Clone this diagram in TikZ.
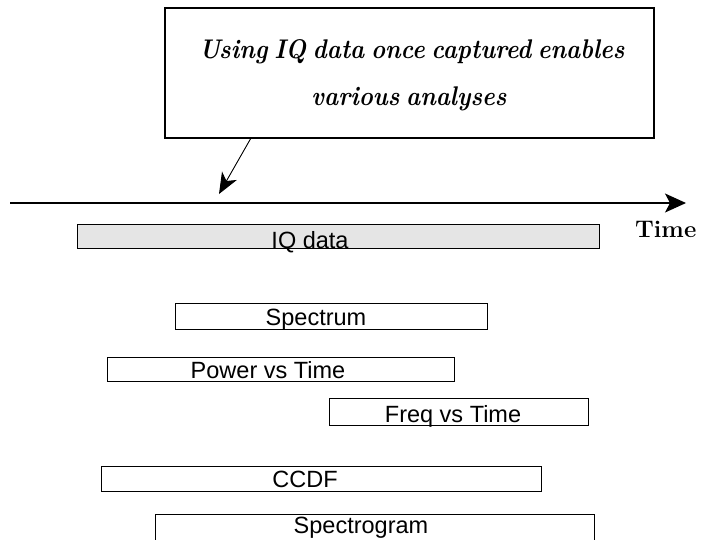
\documentclass[tikz,border=0pt]{standalone}
\usepackage{fontspec}
\usepackage{graphicx}
\newfontfamily\arialf{Liberation Sans}
\usetikzlibrary{arrows.meta}
\tikzset{
  bar/.style={draw, line width=1.3pt, rectangle, inner sep=0pt, anchor=north west},
  lbl/.style={font=\arialf\fontsize{23.5}{26}\selectfont, anchor=base, inner sep=0pt},
  callbox/.style={draw, line width=1.5pt, rectangle, inner sep=0pt},
  calltext/.style={font=\fontsize{27}{30}\selectfont\bfseries\itshape, anchor=base, inner sep=0pt},
}
\newcommand{\cmpr}[1]{\scalebox{0.886}[1]{\spaceskip=0.28em\relax #1}}
\begin{document}
\begin{tikzpicture}[x=1pt, y=-1pt]
\clip (0,0) rectangle (703,539);
\fill[white] (0,0) rectangle (703,539);

% callout
\node[callbox, minimum width=489pt, minimum height=130pt] (call) at (409.5,73) {};
\node[calltext] (callt1) at (412,58) {\cmpr{Using IQ data once captured enables}};
\node[calltext] (callt2) at (409,105) {\cmpr{various analyses}};
\coordinate (cstart) at (251,138);
\coordinate (ctip) at (219,194);
\draw[line width=0.9pt, -{Stealth[length=21pt,width=17pt,inset=6pt]}] (cstart) -- (ctip);

% time axis
\coordinate (ax0) at (10,203);
\coordinate (ax1) at (686,203);
\draw[line width=1.2pt, -{Stealth[length=21pt,width=19pt,inset=5pt]}] (ax0) -- (ax1);
\node[font=\fontsize{24}{26}\selectfont\bfseries, anchor=base west, inner sep=0pt] (time) at (635,237) {Time};

% IQ data
\node[bar, fill=black!10, minimum width=522pt, minimum height=24pt] (iq) at (77,224) {};
\node[lbl] (iqt) at (310,248) {IQ data};

% analyses
\node[bar, minimum width=312pt, minimum height=26pt] (spec) at (175,303) {};
\node[lbl] (spect) at (316,325) {Spectrum};

\node[bar, minimum width=347pt, minimum height=24pt] (pvt) at (107,357) {};
\node[lbl] (pvtt) at (268,378) {Power vs Time};

\node[bar, minimum width=259pt, minimum height=27pt] (fvt) at (329,398) {};
\node[lbl] (fvtt) at (453,422) {Freq vs Time};

\node[bar, minimum width=440pt, minimum height=25pt] (ccdf) at (101,466) {};
\node[lbl] (ccdft) at (305,487) {CCDF};

\node[bar, minimum width=439pt, minimum height=40pt] (sgram) at (155,514) {};
\node[lbl] (sgramt) at (361,533) {Spectrogram};
\end{tikzpicture}
\end{document}
